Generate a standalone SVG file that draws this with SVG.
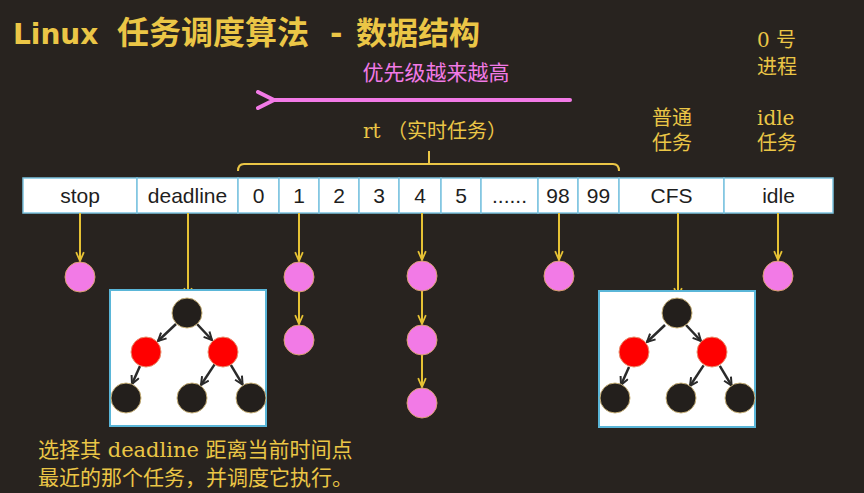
<svg xmlns="http://www.w3.org/2000/svg" width="864" height="493" viewBox="0 0 864 493">
<defs>
<style>
.y{fill:#ebc646;font-family:"DejaVu Serif","Noto Sans CJK SC",serif}
.cell{fill:#fff;stroke:#7cc4e0;stroke-width:1.5}
.ct{font-family:"Liberation Sans",Arial,sans-serif;font-size:21px;fill:#1e1e1e;text-anchor:middle}
.pink{fill:#f27ae6;stroke:#d8a070;stroke-width:1}
.blk{fill:#231f1c;stroke:#c9b27a;stroke-width:1}
.red{fill:#ff0000;stroke:#e89070;stroke-width:1}
.box{fill:#fff;stroke:#5ab6d8;stroke-width:2}
.yc{stroke:#e6c234;stroke-width:2;fill:none;marker-end:url(#ya)}
.tc{stroke:#2a2a2a;stroke-width:2.5;fill:none;marker-end:url(#ta)}
</style>
<marker id="ya" viewBox="0 0 10 10" refX="9" refY="5" markerWidth="11" markerHeight="11" markerUnits="userSpaceOnUse" orient="auto"><path d="M1,1.5 L9,5 L1,8.5" fill="none" stroke="#e6c234" stroke-width="1.6"/></marker>
<marker id="ta" viewBox="0 0 10 10" refX="9" refY="5" markerWidth="10" markerHeight="10" markerUnits="userSpaceOnUse" orient="auto"><path d="M1,1 L9,5 L1,9" fill="none" stroke="#2a2a2a" stroke-width="2"/></marker>
<marker id="pa" viewBox="0 0 20 20" refX="2" refY="10" markerWidth="20" markerHeight="20" markerUnits="userSpaceOnUse" orient="auto"><path d="M18,2 L2,10 L18,18" fill="none" stroke="#f27ae6" stroke-width="4" stroke-linecap="round" stroke-linejoin="round"/></marker>
</defs>
<rect width="864" height="493" fill="#28231f"/>

<g id="title" class="y" font-weight="bold">
<text x="13" y="44" font-size="28" font-family="'DejaVu Sans','Noto Sans CJK SC',sans-serif">Linux</text>
<text x="117" y="44" font-size="32" font-family="'Noto Sans CJK SC',sans-serif">任务调度算法</text>
<text x="330" y="44" font-size="30" font-family="'DejaVu Sans',sans-serif">-</text>
<text x="356" y="44" font-size="31" font-family="'Noto Sans CJK SC',sans-serif">数据结构</text>
</g>

<g id="priority">
<text x="436" y="80" font-family="'Noto Sans CJK SC',sans-serif" font-size="21" fill="#f27ae6" text-anchor="middle">优先级越来越高</text>
<line x1="570" y1="100" x2="274" y2="100" stroke="#f27ae6" stroke-width="4" stroke-linecap="round" marker-end="url(#pa)"/>
</g>

<g id="rt-label" class="y" font-size="20">
<text x="363" y="138">rt <tspan font-family="'Noto Sans CJK SC',sans-serif">（实时任务）</tspan></text>
<path d="M238,171 Q238,164 244,164 L613,164 Q619,164 619,171 M429,164 L429,151" fill="none" stroke="#ebc646" stroke-width="2"/>
</g>

<g id="side-labels" class="y" font-size="20" font-family="'Noto Sans CJK SC',sans-serif">
<text x="757" y="47"><tspan font-family="'DejaVu Serif',serif">0</tspan> 号</text>
<text x="757" y="74">进程</text>
<text x="652" y="125">普通</text>
<text x="652" y="150">任务</text>
<text x="757" y="125" font-family="'DejaVu Serif',serif">idle</text>
<text x="757" y="150">任务</text>
</g>

<g id="array">
<rect class="cell" x="23" y="178" width="114" height="35"/>
<rect class="cell" x="137" y="178" width="101" height="35"/>
<rect class="cell" x="238" y="178" width="41" height="35"/>
<rect class="cell" x="279" y="178" width="40" height="35"/>
<rect class="cell" x="319" y="178" width="40" height="35"/>
<rect class="cell" x="359" y="178" width="40" height="35"/>
<rect class="cell" x="399" y="178" width="42" height="35"/>
<rect class="cell" x="441" y="178" width="40" height="35"/>
<rect class="cell" x="481" y="178" width="57" height="35"/>
<rect class="cell" x="538" y="178" width="40" height="35"/>
<rect class="cell" x="578" y="178" width="41" height="35"/>
<rect class="cell" x="619" y="178" width="105" height="35"/>
<rect class="cell" x="724" y="178" width="109" height="35"/>
<text class="ct" x="80" y="203">stop</text>
<text class="ct" x="187.5" y="203">deadline</text>
<text class="ct" x="258.5" y="203">0</text>
<text class="ct" x="299" y="203">1</text>
<text class="ct" x="339" y="203">2</text>
<text class="ct" x="379" y="203">3</text>
<text class="ct" x="420" y="203">4</text>
<text class="ct" x="461" y="203">5</text>
<text class="ct" x="509.5" y="203">......</text>
<text class="ct" x="558" y="203">98</text>
<text class="ct" x="598.5" y="203">99</text>
<text class="ct" x="671.5" y="203">CFS</text>
<text class="ct" x="778.5" y="203">idle</text>
</g>

<g id="connectors">
<line class="yc" x1="80" y1="213" x2="80" y2="261"/>
<line class="yc" x1="188" y1="213" x2="188" y2="297"/>
<line class="yc" x1="299" y1="213" x2="299" y2="261"/>
<line class="yc" x1="299" y1="292" x2="299" y2="324"/>
<line class="yc" x1="422" y1="213" x2="422" y2="260"/>
<line class="yc" x1="422" y1="291" x2="422" y2="324"/>
<line class="yc" x1="422" y1="355" x2="422" y2="387"/>
<line class="yc" x1="559" y1="213" x2="559" y2="260"/>
<line class="yc" x1="678" y1="213" x2="678" y2="297"/>
<line class="yc" x1="778" y1="213" x2="778" y2="260"/>
</g>

<g id="stop-task"><circle class="pink" cx="80" cy="277" r="15"/></g>
<g id="rt1-task1"><circle class="pink" cx="299" cy="277" r="15"/></g>
<g id="rt1-task2"><circle class="pink" cx="299" cy="340" r="15"/></g>
<g id="rt4-task1"><circle class="pink" cx="422" cy="276" r="15"/></g>
<g id="rt4-task2"><circle class="pink" cx="422" cy="340" r="15"/></g>
<g id="rt4-task3"><circle class="pink" cx="422" cy="403" r="15"/></g>
<g id="rt98-task"><circle class="pink" cx="559" cy="276" r="15"/></g>
<g id="idle-task"><circle class="pink" cx="778" cy="276" r="15"/></g>

<g id="deadline-tree">
<rect class="box" x="110" y="290" width="156" height="136"/>
<g class="tree-edges">
<line class="tc" x1="176" y1="324" x2="158" y2="341"/>
<line class="tc" x1="197" y1="324" x2="212" y2="340"/>
<line class="tc" x1="140" y1="366" x2="132" y2="384"/>
<line class="tc" x1="214.6" y1="364.4" x2="201" y2="385"/>
<line class="tc" x1="230.8" y1="364.8" x2="242.6" y2="384.6"/>
</g>
<circle class="blk" cx="187" cy="313" r="15"/>
<circle class="red" cx="146" cy="352" r="15"/>
<circle class="red" cx="223" cy="352" r="15"/>
<circle class="blk" cx="126" cy="398" r="15"/>
<circle class="blk" cx="192" cy="398" r="15"/>
<circle class="blk" cx="251" cy="398" r="15"/>
</g>

<g id="cfs-tree" transform="translate(489,1)">
<rect class="box" x="110" y="290" width="156" height="136"/>
<g class="tree-edges">
<line class="tc" x1="176" y1="324" x2="158" y2="341"/>
<line class="tc" x1="197" y1="324" x2="212" y2="340"/>
<line class="tc" x1="140" y1="366" x2="132" y2="384"/>
<line class="tc" x1="214.6" y1="364.4" x2="201" y2="385"/>
<line class="tc" x1="230.8" y1="364.8" x2="242.6" y2="384.6"/>
</g>
<circle class="blk" cx="188" cy="312" r="15"/>
<circle class="red" cx="145" cy="351" r="15"/>
<circle class="red" cx="223" cy="351" r="15"/>
<circle class="blk" cx="126" cy="397" r="15"/>
<circle class="blk" cx="192" cy="397" r="15"/>
<circle class="blk" cx="251" cy="397" r="15"/>
</g>

<g id="note" class="y" font-size="21" font-family="'Noto Sans CJK SC',sans-serif">
<text x="38" y="457">选择其 <tspan font-family="'DejaVu Serif',serif">deadline</tspan> 距离当前时间点</text>
<text x="38" y="485">最近的那个任务，并调度它执行。</text>
</g>
</svg>
